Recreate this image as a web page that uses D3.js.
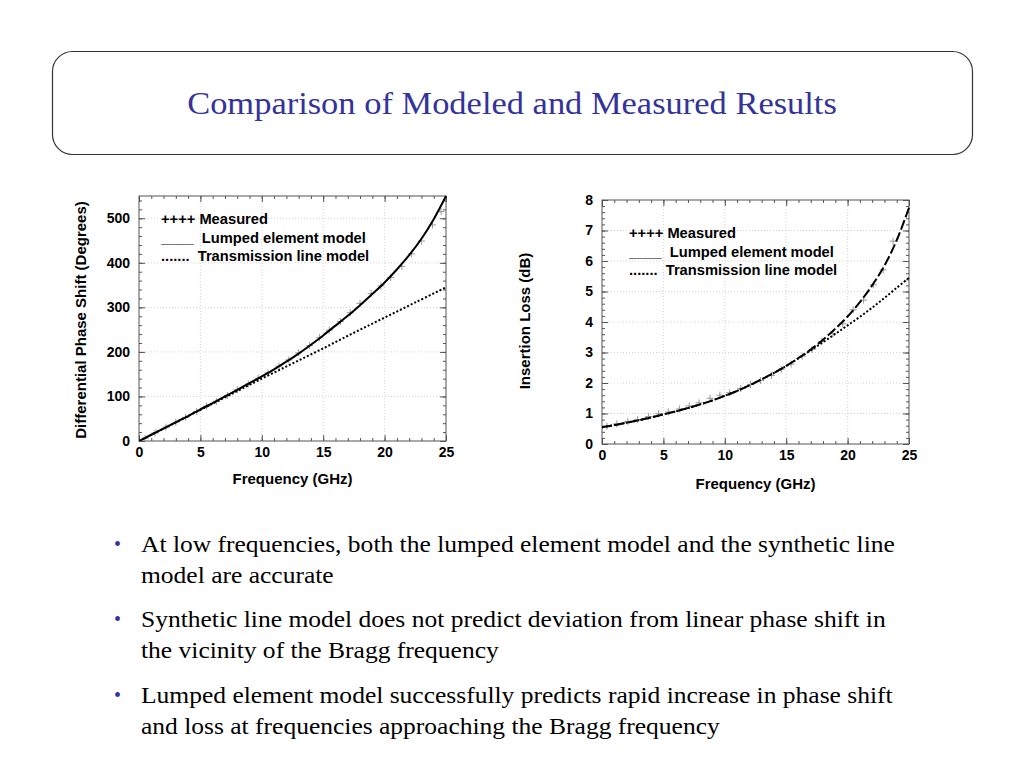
<!DOCTYPE html>
<html>
<head>
<meta charset="utf-8">
<script src="https://cdn.jsdelivr.net/npm/d3@7"></script>
<style>
  html, body { margin: 0; padding: 0; background: #fff; }
  svg { display: block; }
</style>
</head>
<body>
<svg id="chart" width="1024" height="768"></svg>
<script>
// ---------------- DATA ----------------
const titleText = "Comparison of Modeled and Measured Results";

const freqTicks = [0, 5, 10, 15, 20, 25];
const phaseTicks = [0, 100, 200, 300, 400, 500];
const lossTicks = [0, 1, 2, 3, 4, 5, 6, 7, 8];

const legendLabels = ["++++ Measured", "____  Lumped element model", ".......  Transmission line model"];

// Differential phase shift (degrees)
const phaseLumpedF = [0,1,2,3,4,5,6,7,8,9,10,11,12,13,14,15,16,17,18,19,20,21,22,23,24,25];
const phaseLumpedV = [0,14,28,42,56,71,85,100,115,130,145,161,178,196,216,237,259,281,305,330,356,385,417,454,498,550];

const phaseTlineF = [0,2.5,5,7.5,10,12.5,15,17.5,20,22.5,25];
const phaseTlineV = [0,35,70,105,140,174,208,243,277,311,345];

const phaseMeasF = [0.5,1.3,2.2,3.0,3.8,4.7,5.5,6.3,7.2,8.0,8.9,9.7,10.5,11.4,12.2,13.0,13.9,14.7,15.5,16.4,17.2,18.0,18.9,19.7,20.5,21.4,22.2,23.0,23.9,24.6];
const phaseMeasV = [6,18,31,42,53,66,78,89,102,115,128,141,153,168,182,198,214,232,249,268,288,309,331,348,367,392,420,449,485,515];

// Insertion loss (dB)
const lossLumpedF = [0,1,2,3,4,5,6,7,8,9,10,11,12,13,14,15,16,17,18,19,20,21,22,23,24,25];
const lossLumpedV = [0.55,0.62,0.70,0.78,0.87,0.97,1.07,1.18,1.30,1.43,1.58,1.74,1.92,2.12,2.33,2.56,2.82,3.10,3.42,3.78,4.18,4.65,5.20,5.85,6.68,7.75];

const lossTlineF = [0,1,2,3,4,5,6,7,8,9,10,11,12,13,14,15,16,17,18,19,20,21,22,23,24,25];
const lossTlineV = [0.55,0.62,0.70,0.78,0.87,0.97,1.07,1.18,1.30,1.43,1.58,1.74,1.92,2.12,2.33,2.56,2.81,3.07,3.34,3.61,3.89,4.17,4.47,4.79,5.12,5.45];

const lossMeasF = [0.4,1.2,2.1,2.9,3.8,4.6,5.4,6.3,7.1,7.9,8.8,9.6,10.4,11.3,12.1,12.9,13.8,14.6,15.4,16.3,17.1,17.9,18.8,19.6,20.45,21.3,22.1,22.9,23.7];
const lossMeasV = [0.58,0.66,0.74,0.80,0.90,0.99,1.05,1.15,1.25,1.35,1.50,1.60,1.68,1.82,1.95,2.08,2.25,2.45,2.62,2.88,3.10,3.36,3.62,3.94,4.40,4.72,5.22,5.71,6.65];

const bullets = [
  ["At low frequencies, both the lumped element model and the synthetic line", "model are accurate"],
  ["Synthetic line model does not predict deviation from linear phase shift in", "the vicinity of the Bragg frequency"],
  ["Lumped element model successfully predicts rapid increase in phase shift", "and loss at frequencies approaching the Bragg frequency"]
];

// ---------------- DRAW ----------------
const svg = d3.select("#chart");
const sans = "'Liberation Sans', Arial, Helvetica, sans-serif";
const serif = "'Liberation Serif', 'Times New Roman', Times, serif";

// Title box
svg.append("rect")
  .attr("x", 52.5).attr("y", 51.5).attr("width", 920).attr("height", 103)
  .attr("rx", 20).attr("ry", 20)
  .attr("fill", "#fff").attr("stroke", "#333").attr("stroke-width", 1.2);
svg.append("g").attr("transform", "translate(512,114) scale(1.13,1)")
  .append("text")
  .attr("x", 0).attr("y", 0)
  .attr("text-anchor", "middle")
  .attr("font-family", serif).attr("font-size", 30.5)
  .attr("fill", "#333399")
  .text(titleText);

function zip(a, b) { return a.map((v, i) => [v, b[i]]); }

function drawChart(cfg) {
  const g = svg.append("g");
  const x = d3.scaleLinear().domain([0, 25]).range([cfg.x0, cfg.x1]);
  const y = d3.scaleLinear().domain(cfg.yDomain).range([cfg.y0, cfg.y1]);

  // grid
  const grid = g.append("g").attr("stroke", "#c8c8c8").attr("stroke-width", 0.8).attr("stroke-dasharray", "1,2");
  grid.selectAll("line.vx").data(freqTicks.slice(1, -1)).join("line")
    .attr("x1", d => x(d)).attr("x2", d => x(d)).attr("y1", cfg.y0).attr("y2", cfg.y1);
  grid.selectAll("line.hy").data(cfg.yTicks.filter(t => t > cfg.yDomain[0] && t < cfg.yDomain[1])).join("line")
    .attr("x1", cfg.x0).attr("x2", cfg.x1).attr("y1", d => y(d)).attr("y2", d => y(d));

  // minor ticks (all four sides)
  const minorX = d3.range(0, 25.001, 1);
  const minorY = d3.range(cfg.yDomain[0], cfg.yDomain[1] + 1e-6, cfg.minorStep);
  const tickCol = "#555";
  const mk = (axis, transform) => {
    const a = g.append("g").attr("transform", transform).call(axis);
    a.select(".domain").remove();
    a.selectAll("line").attr("stroke", tickCol);
    return a;
  };
  mk(d3.axisBottom(x).tickValues(minorX).tickSize(-3).tickFormat(""), `translate(0,${cfg.y0})`);
  mk(d3.axisTop(x).tickValues(minorX).tickSize(-3).tickFormat(""), `translate(0,${cfg.y1})`);
  mk(d3.axisLeft(y).tickValues(minorY).tickSize(-3).tickFormat(""), `translate(${cfg.x0},0)`);
  mk(d3.axisRight(y).tickValues(minorY).tickSize(-3).tickFormat(""), `translate(${cfg.x1},0)`);

  // major ticks with labels
  const bx = mk(d3.axisBottom(x).tickValues(freqTicks).tickSize(-6).tickPadding(6).tickFormat(d3.format("d")), `translate(0,${cfg.y0})`);
  const ly = mk(d3.axisLeft(y).tickValues(cfg.yTicks).tickSize(-6).tickPadding(9).tickFormat(d3.format("d")), `translate(${cfg.x0},0)`);
  mk(d3.axisTop(x).tickValues(freqTicks).tickSize(-6).tickFormat(""), `translate(0,${cfg.y1})`);
  mk(d3.axisRight(y).tickValues(cfg.yTicks).tickSize(-6).tickFormat(""), `translate(${cfg.x1},0)`);
  [bx, ly].forEach(a => a.selectAll("text")
    .attr("font-family", sans).attr("font-weight", "bold").attr("font-size", 14).attr("fill", "#000"));

  // frame
  g.append("rect").attr("x", cfg.x0).attr("y", cfg.y1)
    .attr("width", cfg.x1 - cfg.x0).attr("height", cfg.y0 - cfg.y1)
    .attr("fill", "none").attr("stroke", "#555").attr("stroke-width", 1);

  // clip
  const clipId = "clip" + cfg.id;
  svg.append("clipPath").attr("id", clipId).append("rect")
    .attr("x", cfg.x0).attr("y", cfg.y1 - 2).attr("width", cfg.x1 - cfg.x0 + 2).attr("height", cfg.y0 - cfg.y1 + 2);
  const plot = g.append("g").attr("clip-path", `url(#${clipId})`);

  const line = d3.line().x(d => x(d[0])).y(d => y(d[1])).curve(d3.curveCatmullRom);

  // measured crosses
  const s = 3.5;
  plot.selectAll("path.meas").data(zip(cfg.measF, cfg.measV)).join("path")
    .attr("d", d => `M${x(d[0]) - s},${y(d[1])}H${x(d[0]) + s}M${x(d[0])},${y(d[1]) - s}V${y(d[1]) + s}`)
    .attr("stroke", "#999").attr("stroke-width", 1).attr("fill", "none");

  plot.append("path").datum(zip(cfg.tlF, cfg.tlV))
    .attr("d", line).attr("fill", "none").attr("stroke", "#000")
    .attr("stroke-width", 2).attr("stroke-dasharray", "2,2");
  plot.append("path").datum(zip(cfg.lumpF, cfg.lumpV))
    .attr("d", line).attr("fill", "none").attr("stroke", "#000")
    .attr("stroke-width", 2).attr("stroke-dasharray", cfg.lumpDash);

  // axis titles
  g.append("text").attr("x", (cfg.x0 + cfg.x1) / 2).attr("y", cfg.xTitleY)
    .attr("text-anchor", "middle").attr("font-family", sans).attr("font-weight", "bold")
    .attr("font-size", 15).text("Frequency (GHz)");
  g.append("text")
    .attr("transform", `translate(${cfg.yTitleX},${cfg.yTitleCY}) rotate(-90)`)
    .attr("text-anchor", "middle").attr("font-family", sans).attr("font-weight", "bold")
    .attr("font-size", 15).text(cfg.yTitle);

  // legend
  g.selectAll("text.leg").data(legendLabels).join("text")
    .attr("x", cfg.legX).attr("y", (d, i) => cfg.legY + i * 18.5)
    .attr("font-family", sans).attr("font-weight", "bold").attr("font-size", 14.7)
    .attr("xml:space", "preserve").style("white-space", "pre")
    .text(d => d);
}

drawChart({
  id: "L", x0: 139, x1: 446, y0: 441, y1: 196, yDomain: [0, 550],
  yTicks: phaseTicks, minorStep: 20,
  lumpF: phaseLumpedF, lumpV: phaseLumpedV, lumpDash: null,
  tlF: phaseTlineF, tlV: phaseTlineV,
  measF: phaseMeasF, measV: phaseMeasV,
  xTitleY: 484, yTitleX: 86, yTitleCY: 320,
  yTitle: "Differential Phase Shift (Degrees)",
  legX: 161, legY: 224
});

drawChart({
  id: "R", x0: 602, x1: 909, y0: 444, y1: 200, yDomain: [0, 8],
  yTicks: lossTicks, minorStep: 0.2,
  lumpF: lossLumpedF, lumpV: lossLumpedV, lumpDash: "10,3",
  tlF: lossTlineF, tlV: lossTlineV,
  measF: lossMeasF, measV: lossMeasV,
  xTitleY: 489, yTitleX: 530, yTitleCY: 321,
  yTitle: "Insertion Loss (dB)",
  legX: 629, legY: 238
});

// Bullets
const bulletTop = [552, 627, 703];
bullets.forEach((lines, i) => {
  svg.append("text").attr("x", 114).attr("y", bulletTop[i] - 1)
    .attr("font-family", serif).attr("font-size", 20).attr("fill", "#333399").text("\u2022");
  lines.forEach((t, j) => {
    svg.append("g").attr("transform", `translate(141,${bulletTop[i] + j * 31}) scale(1.11,1)`)
      .append("text").attr("x", 0).attr("y", 0)
      .attr("font-family", serif).attr("font-size", 23).attr("fill", "#000").text(t);
  });
});
</script>
</body>
</html>
